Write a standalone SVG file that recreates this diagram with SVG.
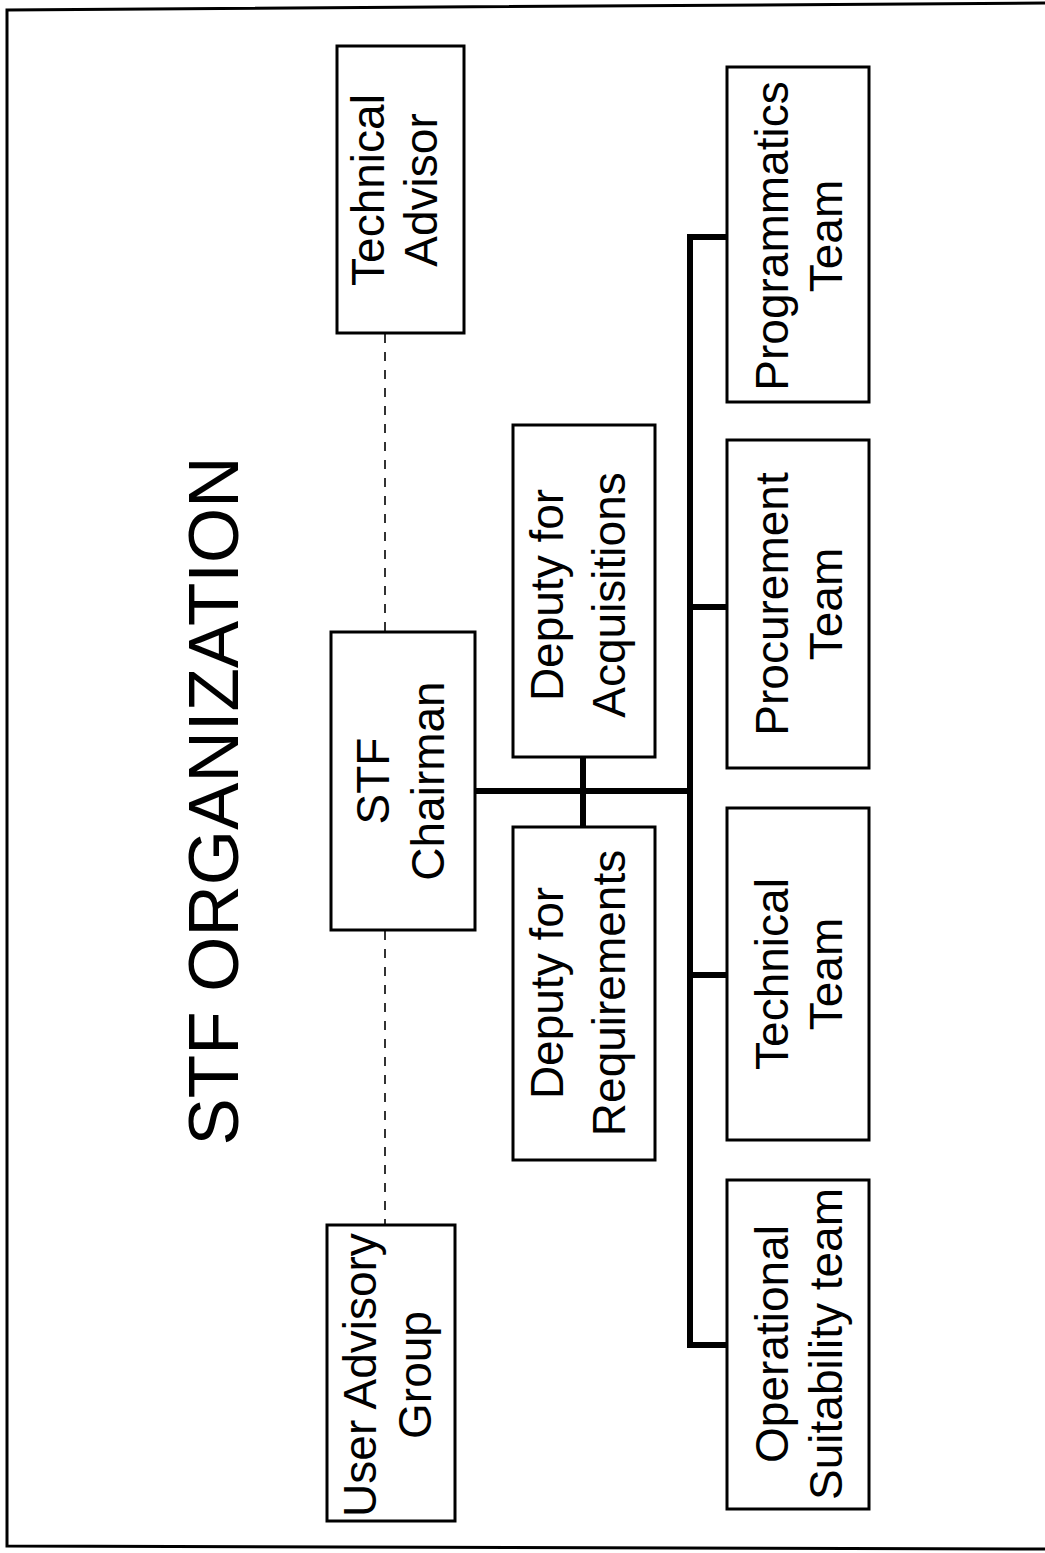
<svg xmlns="http://www.w3.org/2000/svg" width="1045" height="1553" viewBox="0 0 1045 1553">
<style>
.box{fill:#fff;stroke:#000;stroke-width:3}
.lbl{font-family:"Liberation Sans",Arial,sans-serif;font-size:46px;fill:#000;text-anchor:middle}
.title{font-family:"Liberation Sans",Arial,sans-serif;font-size:71px;fill:#000;text-anchor:middle}
.conn{fill:none;stroke:#000;stroke-width:6;stroke-linecap:square}
.dash{fill:none;stroke:#000;stroke-width:1.6;stroke-dasharray:9 9}
.frame{fill:none;stroke:#000;stroke-width:3}
</style>
<rect width="1045" height="1553" fill="#fff"/>
<g id="frame">
<polyline class="frame" points="1045,3 7,10 7,1546 1045,1549"/>
</g>
<g id="title">
<text class="title" transform="translate(213,801) rotate(-90)" y="25">STF ORGANIZATION</text>
</g>
<g id="connectors">
<line class="dash" x1="385" y1="334" x2="385" y2="631"/>
<line class="dash" x1="385" y1="931" x2="385" y2="1224"/>
<path class="conn" d="M477,791 H690"/>
<path class="conn" d="M583,759 V825"/>
<path class="conn" d="M725,237 H690 V1345 H725"/>
<path class="conn" d="M690,607 H725"/>
<path class="conn" d="M690,975 H725"/>
</g>
<g id="technical-advisor">
<rect class="box" x="337" y="46" width="127" height="287"/>
<text class="lbl" transform="translate(400.5,190) rotate(-90)"><tspan x="0" y="-17">Technical</tspan><tspan x="0" y="36">Advisor</tspan></text>
</g>
<g id="user-advisory-group">
<rect class="box" x="327" y="1225" width="128" height="296"/>
<text class="lbl" transform="translate(391,1375) rotate(-90)"><tspan x="0" y="-15.5">User Advisory</tspan><tspan x="0" y="39.5">Group</tspan></text>
</g>
<g id="stf-chairman">
<rect class="box" x="331" y="632" width="144" height="298"/>
<text class="lbl" transform="translate(403,781) rotate(-90)"><tspan x="0" y="-14.5">STF</tspan><tspan x="0" y="40.5">Chairman</tspan></text>
</g>
<g id="deputy-acquisitions">
<rect class="box" x="513" y="425" width="142" height="332"/>
<text class="lbl" transform="translate(584,595) rotate(-90)"><tspan x="0" y="-21.5">Deputy for</tspan><tspan x="0" y="40.5">Acquisitions</tspan></text>
</g>
<g id="deputy-requirements">
<rect class="box" x="513" y="827" width="142" height="333"/>
<text class="lbl" transform="translate(584,993) rotate(-90)"><tspan x="0" y="-21">Deputy for</tspan><tspan x="0" y="41">Requirements</tspan></text>
</g>
<g id="programmatics-team">
<rect class="box" x="727" y="67" width="142" height="335"/>
<text class="lbl" transform="translate(798,236) rotate(-90)"><tspan x="0" y="-10.5">Programmatics</tspan><tspan x="0" y="43.5">Team</tspan></text>
</g>
<g id="procurement-team">
<rect class="box" x="727" y="440" width="142" height="328"/>
<text class="lbl" transform="translate(798,604) rotate(-90)"><tspan x="0" y="-10.5">Procurement</tspan><tspan x="0" y="43.5">Team</tspan></text>
</g>
<g id="technical-team">
<rect class="box" x="727" y="808" width="142" height="332"/>
<text class="lbl" transform="translate(798,974) rotate(-90)"><tspan x="0" y="-10.5">Technical</tspan><tspan x="0" y="43.5">Team</tspan></text>
</g>
<g id="operational-suitability-team">
<rect class="box" x="727" y="1180" width="142" height="329"/>
<text class="lbl" transform="translate(798,1344) rotate(-90)"><tspan x="0" y="-10.5">Operational</tspan><tspan x="0" y="43.5">Suitability team</tspan></text>
</g>
</svg>
